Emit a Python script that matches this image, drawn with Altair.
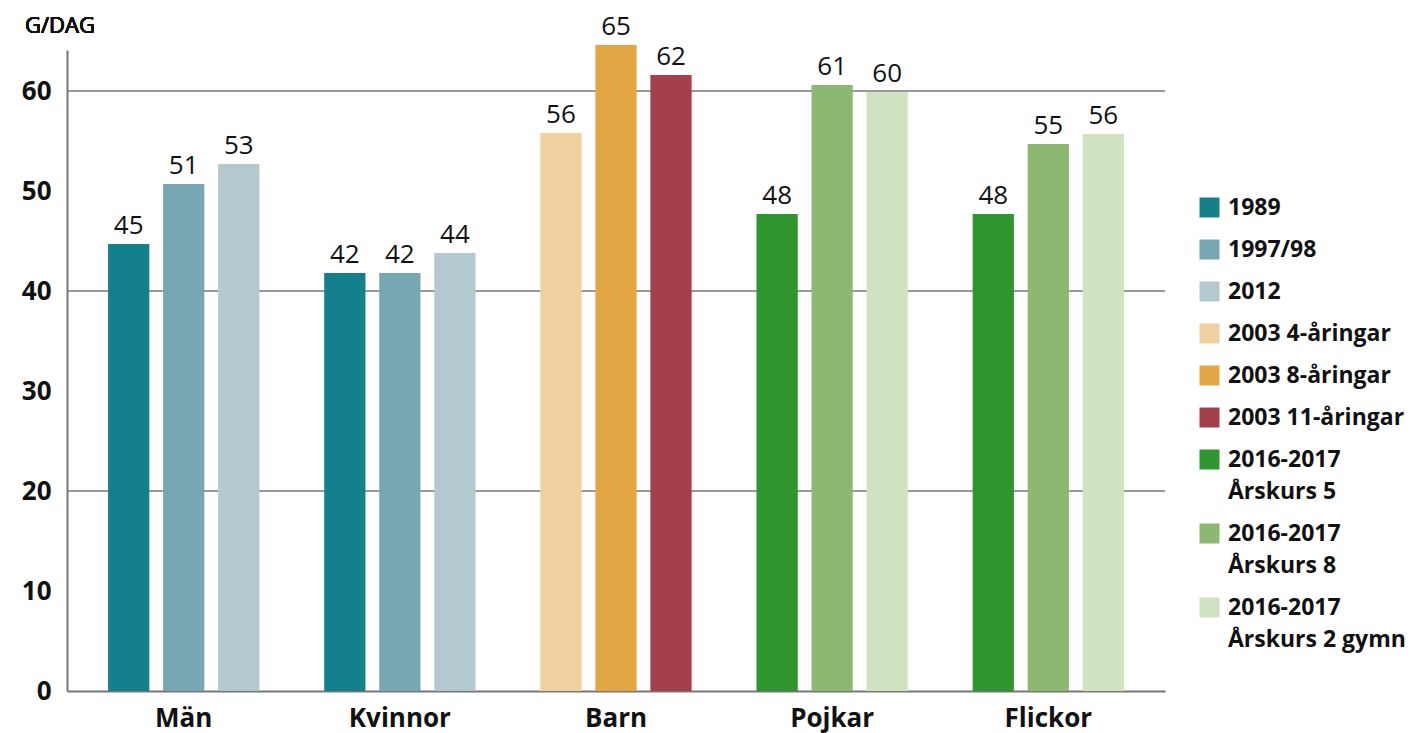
import altair as alt
import pandas as pd

groups = ["Män", "Män", "Män", "Kvinnor", "Kvinnor", "Kvinnor", "Barn", "Barn", "Barn",
          "Pojkar", "Pojkar", "Pojkar", "Flickor", "Flickor", "Flickor"]
slots = [0, 1, 2] * 5
series = ["1989", "1997/98", "2012", "1989", "1997/98", "2012",
          "2003 4-åringar", "2003 8-åringar", "2003 11-åringar",
          "2016-2017|Årskurs 5", "2016-2017|Årskurs 8", "2016-2017|Årskurs 2 gymn",
          "2016-2017|Årskurs 5", "2016-2017|Årskurs 8", "2016-2017|Årskurs 2 gymn"]
values = [44.7, 50.7, 52.7, 41.8, 41.8, 43.8, 55.8, 64.6, 61.6, 47.7, 60.6, 59.9, 47.7, 54.7, 55.7]

category_order = ["Män", "Kvinnor", "Barn", "Pojkar", "Flickor"]
series_order = ["1989", "1997/98", "2012", "2003 4-åringar", "2003 8-åringar", "2003 11-åringar",
                "2016-2017|Årskurs 5", "2016-2017|Årskurs 8", "2016-2017|Årskurs 2 gymn"]
series_colors = ["#14808c", "#77a7b2", "#b4c9cf", "#f1d1a0", "#e4a545", "#a4404c",
                 "#2e952f", "#8cb872", "#d0e2c0"]
tick_values = [0, 10, 20, 30, 40, 50, 60]
grid_values = [20, 40, 60]

df = pd.DataFrame({"group": groups, "slot": slots, "series": series, "value": values})
grid_df = pd.DataFrame({"g": grid_values})

FONT = "Open Sans"
ymax = 64.1

x = alt.X("group:N", sort=category_order,
          scale=alt.Scale(paddingInner=0.3, paddingOuter=0.19),
          axis=alt.Axis(title=None, labelAngle=0, labelFont=FONT, labelFontSize=26,
                        labelFontWeight="bold", labelColor="#111", ticks=False,
                        domainColor="#777", domainWidth=2, labelPadding=14))
y_scale = alt.Scale(domain=[0, ymax], nice=False, zero=True)
xoff = alt.XOffset("slot:O", scale=alt.Scale(paddingInner=0.25, paddingOuter=0))

grid = alt.Chart(grid_df).mark_rule(color="#777", strokeWidth=1.6).encode(
    y=alt.Y("g:Q", scale=y_scale),
)

bars = alt.Chart(df).mark_bar().encode(
    x=x,
    xOffset=xoff,
    y=alt.Y("value:Q", scale=y_scale,
            axis=alt.Axis(title=None, values=tick_values, grid=False, ticks=False,
                          labelFont=FONT, labelFontSize=26, labelFontWeight="bold",
                          labelColor="#111", domainColor="#777", domainWidth=2,
                          labelPadding=16)),
    color=alt.Color("series:N", sort=series_order,
                    scale=alt.Scale(domain=series_order, range=series_colors),
                    legend=alt.Legend(title=None, orient="none", legendX=1131, legendY=146,
                                      symbolType="square", symbolSize=400,
                                      symbolStrokeWidth=0, labelFont=FONT,
                                      labelFontSize=23, labelFontWeight="bold",
                                      labelColor="#111", rowPadding=18, padding=0,
                                      labelOffset=7, labelLimit=300,
                                      labelExpr="split(datum.label, '|')")),
)

labels = alt.Chart(df).mark_text(baseline="alphabetic", dy=-10, font=FONT, fontSize=26,
                                 color="#111").encode(
    x=x,
    xOffset=xoff,
    y=alt.Y("value:Q", scale=y_scale),
    text=alt.Text("value:Q", format=".0f"),
)

unit = alt.Chart(df).mark_text(align="left", baseline="middle", font=FONT, fontSize=22,
                               fontWeight="normal", color="#111").encode(
    x=alt.value(-42), y=alt.value(-24), text=alt.value("G/DAG"),
)

chart = alt.layer(grid, bars, labels, unit).properties(
    width=1098, height=641,
    autosize=alt.AutoSizeParams(type="none"),
    padding={"left": 59, "top": 42, "right": 250, "bottom": 42},
).configure(
    style={"guide-label": {"lineHeight": 32}}
).configure_view(stroke=None).configure_axis(grid=False)

chart.save("out.html", embed_options={"renderer": "svg", "actions": False})
